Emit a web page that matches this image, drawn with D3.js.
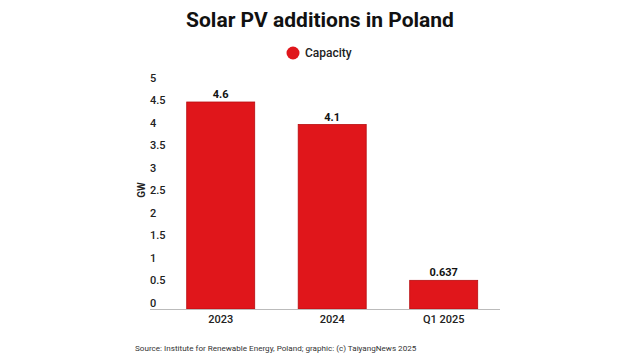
<!DOCTYPE html>
<html><head><meta charset="utf-8">
<script src="https://cdn.jsdelivr.net/npm/d3@7"></script>
<style>body{margin:0;background:#fff}svg{display:block;font-family:Roboto,"Noto Sans",sans-serif}</style>
</head><body><svg width="640" height="360"></svg>
<script>
const categories = ["2023", "2024", "Q1 2025"];
const capacity = [4.6, 4.1, 0.637];
const valueLabels = ["4.6", "4.1", "0.637"];
const yTicks = [0, 0.5, 1, 1.5, 2, 2.5, 3, 3.5, 4, 4.5, 5];
const tickLabels = ["0", "0.5", "1", "1.5", "2", "2.5", "3", "3.5", "4", "4.5", "5"];

const svg = d3.select("svg");
const red = "#e0161b";

svg.append("text").attr("x", 320).attr("y", 27).attr("text-anchor", "middle")
  .attr("font-size", 21).attr("font-weight", 700).attr("fill", "#111").text("Solar PV additions in Poland");

svg.append("circle").attr("cx", 293).attr("cy", 53).attr("r", 6.5).attr("fill", red);
svg.append("text").attr("x", 305).attr("y", 57).attr("font-size", 12).attr("font-weight", 500).attr("fill", "#222").text("Capacity");

const x = d3.scaleBand().domain(categories).range([164.4, 500]).paddingInner(0.39).paddingOuter(0.2);
const y = d3.scaleLinear().domain([0, 5]).range([309, 84]);

// y axis labels
const yAxis = d3.axisLeft(y).tickValues(yTicks).tickFormat((d, i) => tickLabels[i]).tickSize(0).tickPadding(0);
const ga = svg.append("g").attr("transform", "translate(150,0)").call(yAxis);
ga.select(".domain").remove();
ga.selectAll("text").attr("text-anchor", "start").attr("dy", "-0.25em").attr("x", 0)
  .attr("font-size", 11).attr("font-family", "Roboto").attr("font-weight", 500).attr("fill", "#222");

svg.append("text").attr("transform", "translate(145,190) rotate(-90)").attr("text-anchor", "middle")
  .attr("font-size", 10).attr("font-weight", 700).attr("fill", "#222").text("GW");

// bars
svg.selectAll("rect.bar").data(capacity).join("rect").attr("class", "bar")
  .attr("x", (d, i) => x(categories[i])).attr("width", x.bandwidth())
  .attr("y", d => y(d)).attr("height", d => y(0) - y(d))
  .attr("fill", red).attr("stroke", "#b80d10").attr("stroke-width", 0.8);

svg.selectAll("text.val").data(capacity).join("text").attr("class", "val")
  .attr("x", (d, i) => x(categories[i]) + x.bandwidth() / 2).attr("y", d => y(d) - 4)
  .attr("text-anchor", "middle").attr("font-size", 11).attr("font-weight", 700).attr("fill", "#111")
  .text((d, i) => valueLabels[i]);

// baseline
svg.append("line").attr("x1", 150).attr("x2", 500).attr("y1", y(0) + 0.5).attr("y2", y(0) + 0.5)
  .attr("stroke", "#bbb").attr("stroke-width", 1);

// x axis
const xAxis = d3.axisBottom(x).tickSize(0).tickPadding(0);
const gx = svg.append("g").attr("transform", `translate(0,${y(0)})`).call(xAxis);
gx.select(".domain").remove();
gx.selectAll("text").attr("dy", null).attr("y", 14).attr("font-size", 11).attr("font-family", "Roboto")
  .attr("font-weight", 500).attr("fill", "#222");

svg.append("text").attr("x", 135).attr("y", 351).attr("font-size", 8.1).attr("fill", "#333")
  .text("Source: Institute for Renewable Energy, Poland; graphic: (c) TaiyangNews 2025");
</script></body></html>
